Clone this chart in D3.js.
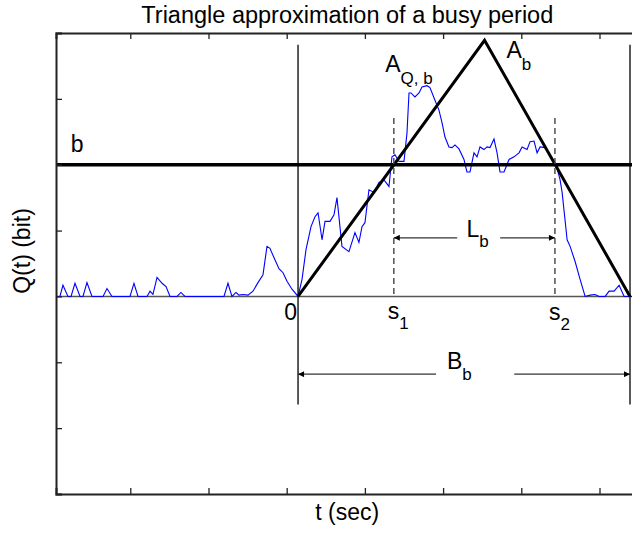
<!DOCTYPE html>
<html>
<head>
<meta charset="utf-8">
<script src="https://cdn.jsdelivr.net/npm/d3@7"></script>
<style>
  body { margin: 0; background: #fff; }
  svg text { font-family: "Liberation Sans", Arial, Helvetica, sans-serif; fill: #000; }
</style>
</head>
<body>
<script>
// queue size samples (time in tick units x10, Q in tick units)
var qTime = [0.5, 1.0, 1.39, 2.03, 2.42, 2.93, 3.57, 3.95, 4.46, 5.10, 6.51, 7.02, 7.66, 9.96, 10.47, 10.99,
  12.14, 12.52, 12.90, 13.42, 14.06, 14.57, 15.08, 15.98, 16.48, 16.99, 21.98, 22.49, 23.00, 23.51, 23.90,
  24.41, 25.05, 25.69, 26.33, 26.97, 27.48, 27.86, 28.37, 29.01, 29.53, 30.04, 30.68, 31.45,
  31.96, 32.47, 33.11, 33.62, 34.01, 34.52, 34.90, 35.54, 36.05, 36.43, 37.07, 37.96, 38.73, 39.24, 39.63,
  40.01, 40.52, 41.16, 41.80, 42.44, 43.08, 43.46, 43.85, 44.36, 45.00, 45.38, 45.64, 45.89, 46.40, 46.92,
  47.30, 47.94, 48.32, 48.96, 49.47, 49.86, 50.24, 50.75, 51.14, 51.52, 52.03, 52.67, 53.05, 53.44, 53.95,
  54.34, 54.72, 55.23, 55.62, 56.00, 56.51, 56.90, 57.28, 57.79, 58.43, 59.07, 59.71, 60.10, 60.74, 61.12,
  61.63, 62.02, 62.40, 63.04, 63.55, 64.19, 64.57, 64.96, 65.22, 65.86, 66.24, 66.88, 67.52, 68.16, 68.80,
  69.44, 69.95, 70.72, 71.23, 71.87, 72.51, 73.15, 74.17, 75.0];
var qValue = [0, 0, 0.17, 0, 0, 0.20, 0, 0, 0.21, 0, 0, 0.12, 0, 0, 0.20, 0,
  0, 0.08, 0.03, 0.29, 0.20, 0.15, 0, 0, 0.06, 0, 0, 0.20, 0, 0.06, 0.02,
  0.03, 0.02, 0.08, 0.21, 0.33, 0.76, 0.73, 0.59, 0.42, 0.36, 0.23, 0.11, 0,
  0.26, 0.71, 1.06, 1.21, 1.27, 0.86, 1.14, 1.14, 1.24, 1.50, 0.76, 0.68, 0.97, 0.82, 1.06,
  1.12, 1.62, 1.58, 1.73, 1.77, 1.67, 2.12, 2.15, 2.05, 2.05, 2.48, 3.09, 3.09, 3.03, 3.09,
  3.18, 3.20, 3.17, 2.98, 2.83, 2.64, 2.42, 2.27, 2.26, 2.30, 2.24, 2.08, 1.89, 1.89, 2.18,
  2.12, 2.27, 2.23, 2.27, 2.26, 2.39, 2.18, 1.89, 1.89, 2.08, 2.12, 2.18, 2.27, 2.23, 2.35,
  2.36, 2.18, 2.27, 2.26, 2.18, 2.03, 1.95, 1.77, 1.58, 0.86, 0.76, 0.53, 0.26, 0, 0.02,
  0.03, 0, 0, 0.08, 0.08, 0.17, 0, 0, 0];

// triangle approximation
var triTime = [31.45, 55.3, 73.9];
var triValue = [0, 3.89, 0];
var bLevel = 2;
var s1 = 43.7, s2 = 64.3;

var xTicks = [10, 20, 30, 40, 50, 60, 70];
var yTicks = [-3, -2, -1, 0, 1, 2, 3, 4];

var W = 632, H = 534;
var pL = 56, pR = 638.6, pT = 33, pB = 494;

var svg = d3.select("body").append("svg")
  .attr("width", W).attr("height", H);

var x = d3.scaleLinear().domain([0.5, 75]).range([pL, pR]);
var y = d3.scaleLinear().domain([-3, 4]).range([pB, pT]);

// arrow heads
var defs = svg.append("defs");
defs.append("marker").attr("id", "ah")
  .attr("viewBox", "0 0 10 10").attr("refX", 10).attr("refY", 5)
  .attr("markerWidth", 8).attr("markerHeight", 6).attr("markerUnits", "userSpaceOnUse")
  .attr("orient", "auto")
  .append("path").attr("d", "M0,0 L10,5 L0,10 z").attr("fill", "#000");

defs.append("clipPath").attr("id", "clip")
  .append("rect").attr("x", pL).attr("y", pT).attr("width", pR - pL).attr("height", pB - pT);

var plot = svg.append("g").attr("clip-path", "url(#clip)");

// zero line
plot.append("line")
  .attr("x1", pL).attr("x2", pR).attr("y1", y(0)).attr("y2", y(0))
  .attr("stroke", "#555").attr("stroke-width", 1.5);

// measured queue
var line = d3.line().x(function (d, i) { return x(qTime[i]); }).y(function (d) { return y(d); });
plot.append("path").datum(qValue)
  .attr("d", line).attr("fill", "none")
  .attr("stroke", "#0000ff").attr("stroke-width", 1.1);

// b level
plot.append("line")
  .attr("x1", pL).attr("x2", pR).attr("y1", y(bLevel)).attr("y2", y(bLevel))
  .attr("stroke", "#000").attr("stroke-width", 3.5);

// triangle
var triLine = d3.line().x(function (d, i) { return x(triTime[i]); }).y(function (d) { return y(d); });
plot.append("path").datum(triValue)
  .attr("d", triLine).attr("fill", "none")
  .attr("stroke", "#000").attr("stroke-width", 3).attr("stroke-linejoin", "miter");

// start / end of busy period
[triTime[0], triTime[2]].forEach(function (t) {
  plot.append("line")
    .attr("x1", x(t)).attr("x2", x(t)).attr("y1", y(3.82)).attr("y2", y(-1.64))
    .attr("stroke", "#000").attr("stroke-width", 1.3);
});

// s1, s2 dashed
[s1, s2].forEach(function (t) {
  plot.append("line")
    .attr("x1", x(t)).attr("x2", x(t)).attr("y1", y(2.71)).attr("y2", y(0))
    .attr("stroke", "#444").attr("stroke-width", 1.4).attr("stroke-dasharray", "6,4");
});

// double arrows with a gap for the label
function arrow(a, bEnd, gapA, gapB, q) {
  plot.append("line")
    .attr("x1", x(gapA)).attr("x2", x(a)).attr("y1", y(q)).attr("y2", y(q))
    .attr("stroke", "#333").attr("stroke-width", 1.3).attr("marker-end", "url(#ah)");
  plot.append("line")
    .attr("x1", x(gapB)).attr("x2", x(bEnd)).attr("y1", y(q)).attr("y2", y(q))
    .attr("stroke", "#333").attr("stroke-width", 1.3).attr("marker-end", "url(#ah)");
}
arrow(s1, s2, 51.8, 57.3, 0.89);
arrow(triTime[0], triTime[2], 49.1, 59.1, -1.18);

// axes box and ticks
var axG = svg.append("g");
axG.append("g").attr("transform", "translate(0," + pB + ")")
  .call(d3.axisBottom(x).tickValues(xTicks).tickSize(-6).tickFormat(""));
axG.append("g").attr("transform", "translate(0," + pT + ")")
  .call(d3.axisTop(x).tickValues(xTicks).tickSize(-6).tickFormat(""));
axG.append("g").attr("transform", "translate(" + pL + ",0)")
  .call(d3.axisLeft(y).tickValues(yTicks).tickSize(-6).tickFormat(""));
axG.append("g").attr("transform", "translate(" + pR + ",0)")
  .call(d3.axisRight(y).tickValues(yTicks).tickSize(-6).tickFormat(""));
axG.selectAll(".domain").attr("stroke", "#222").attr("stroke-width", 2);
axG.selectAll(".tick line").attr("stroke", "#222").attr("stroke-width", 1.3);

// labels
function label(tx, ty, main, sub, anchor, subDy) {
  var t = svg.append("text").attr("x", tx).attr("y", ty)
    .attr("font-size", 23).attr("text-anchor", anchor || "start");
  t.append("tspan").text(main);
  if (sub) t.append("tspan").attr("font-size", 17).attr("dy", subDy || 11).text(sub);
  return t;
}
label(x(triTime[0]) - 1, y(0) + 24, "0", null, "end");
label(x(s1) - 6, y(0) + 23, "s", "1", "start", 10);
label(x(s2) - 6, y(0) + 24, "s", "2", "start", 10);
label(x(2.4), y(bLevel) - 13, "b");
label(x(42.6), y(3.41), "A", "Q, b", "start", 12);
label(x(58.1), y(3.62), "A", "b", "start", 12);
label(x(53.0), y(0.89) - 1, "L", "b", "start", 10);
label(x(50.5), y(-1.18) - 5, "B", "b", "start", 11);

svg.append("text").attr("x", (pL + pR) / 2).attr("y", 23)
  .attr("text-anchor", "middle").attr("font-size", 23.5)
  .text("Triangle approximation of a busy period");
svg.append("text").attr("x", (pL + pR) / 2).attr("y", 520)
  .attr("text-anchor", "middle").attr("font-size", 23)
  .text("t (sec)");
svg.append("text").attr("transform", "translate(30," + 251 + ") rotate(-90)")
  .attr("text-anchor", "middle").attr("font-size", 23)
  .text("Q(t) (bit)");
</script>
</body>
</html>
